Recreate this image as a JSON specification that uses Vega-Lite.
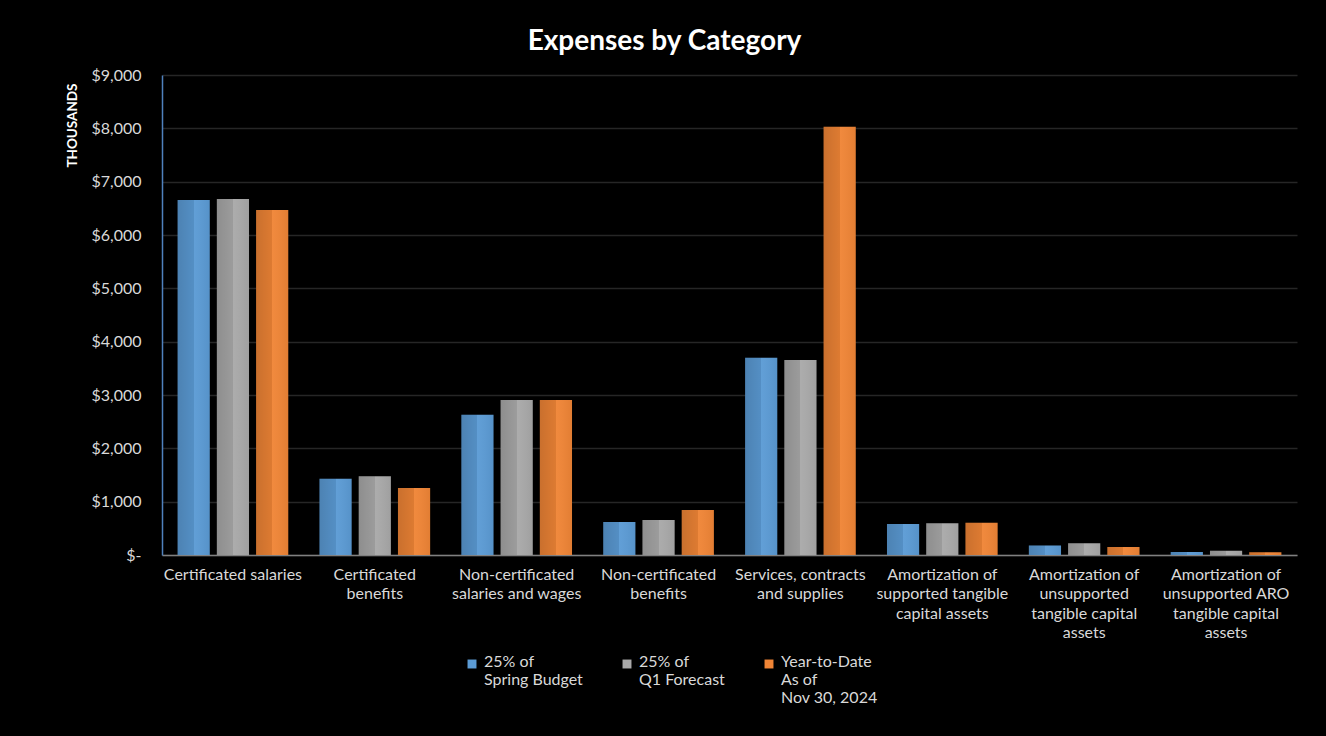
{
  "$schema": "https://vega.github.io/schema/vega-lite/v6.json",
  "width": 1135,
  "height": 480,
  "autosize": {"type": "none"},
  "padding": {"left": 162, "top": 75, "right": 29, "bottom": 181},
  "background": "#000000",
  "title": {
    "text": "Expenses by Category",
    "color": "#ffffff",
    "font": "Lato",
    "fontSize": 28,
    "fontWeight": "bold",
    "anchor": "middle",
    "dx": -65,
    "offset": 11
  },
  "data": {
    "values": [
      {"category": "Certificated salaries", "series": "25% of Spring Budget", "value": 6656},
      {"category": "Certificated salaries", "series": "25% of Q1 Forecast", "value": 6675},
      {"category": "Certificated salaries", "series": "Year-to-Date As of Nov 30, 2024", "value": 6469},
      {"category": "Certificated benefits", "series": "25% of Spring Budget", "value": 1430},
      {"category": "Certificated benefits", "series": "25% of Q1 Forecast", "value": 1475},
      {"category": "Certificated benefits", "series": "Year-to-Date As of Nov 30, 2024", "value": 1256},
      {"category": "Non-certificated salaries and wages", "series": "25% of Spring Budget", "value": 2631},
      {"category": "Non-certificated salaries and wages", "series": "25% of Q1 Forecast", "value": 2906},
      {"category": "Non-certificated salaries and wages", "series": "Year-to-Date As of Nov 30, 2024", "value": 2906},
      {"category": "Non-certificated benefits", "series": "25% of Spring Budget", "value": 619},
      {"category": "Non-certificated benefits", "series": "25% of Q1 Forecast", "value": 656},
      {"category": "Non-certificated benefits", "series": "Year-to-Date As of Nov 30, 2024", "value": 844},
      {"category": "Services, contracts and supplies", "series": "25% of Spring Budget", "value": 3700},
      {"category": "Services, contracts and supplies", "series": "25% of Q1 Forecast", "value": 3656},
      {"category": "Services, contracts and supplies", "series": "Year-to-Date As of Nov 30, 2024", "value": 8030},
      {"category": "Amortization of supported tangible capital assets", "series": "25% of Spring Budget", "value": 580},
      {"category": "Amortization of supported tangible capital assets", "series": "25% of Q1 Forecast", "value": 594},
      {"category": "Amortization of supported tangible capital assets", "series": "Year-to-Date As of Nov 30, 2024", "value": 607},
      {"category": "Amortization of unsupported tangible capital assets", "series": "25% of Spring Budget", "value": 176},
      {"category": "Amortization of unsupported tangible capital assets", "series": "25% of Q1 Forecast", "value": 219},
      {"category": "Amortization of unsupported tangible capital assets", "series": "Year-to-Date As of Nov 30, 2024", "value": 150},
      {"category": "Amortization of unsupported ARO tangible capital assets", "series": "25% of Spring Budget", "value": 56},
      {"category": "Amortization of unsupported ARO tangible capital assets", "series": "25% of Q1 Forecast", "value": 82},
      {"category": "Amortization of unsupported ARO tangible capital assets", "series": "Year-to-Date As of Nov 30, 2024", "value": 50}
    ]
  },
  "encoding": {
    "x": {
      "field": "category",
      "type": "nominal",
      "sort": null,
      "scale": {"paddingInner": 0.22, "paddingOuter": 0.11},
      "axis": {
        "title": null,
        "labelAngle": 0,
        "labelColor": "#d9d9d9",
        "labelFont": "Lato",
        "labelFontSize": 16,
        "labelLineHeight": 19.5,
        "labelPadding": 11,
        "labelLimit": 0,
        "ticks": false,
        "domainColor": "#808080",
        "domainWidth": 1.5,
        "labelExpr": "{'Certificated salaries':['Certificated salaries'],'Certificated benefits':['Certificated','benefits'],'Non-certificated salaries and wages':['Non-certificated','salaries and wages'],'Non-certificated benefits':['Non-certificated','benefits'],'Services, contracts and supplies':['Services, contracts','and supplies'],'Amortization of supported tangible capital assets':['Amortization of','supported tangible','capital assets'],'Amortization of unsupported tangible capital assets':['Amortization of','unsupported','tangible capital','assets'],'Amortization of unsupported ARO tangible capital assets':['Amortization of','unsupported ARO','tangible capital','assets']}[datum.label]"
      }
    },
    "xOffset": {
      "field": "series",
      "type": "nominal",
      "sort": null,
      "scale": {"paddingInner": 0.18, "paddingOuter": 0}
    },
    "y": {
      "field": "value",
      "type": "quantitative",
      "scale": {"domain": [0, 9000], "nice": false},
      "axis": {
        "title": "THOUSANDS",
        "titleColor": "#ffffff",
        "titleFont": "Lato",
        "titleFontSize": 13.5,
        "titleFontWeight": "bold",
        "titleAnchor": "end",
        "titleAngle": -90,
        "titleX": -90,
        "titleY": 8,
        "titleAlign": "right",
        "titleBaseline": "middle",
        "values": [0, 1000, 2000, 3000, 4000, 5000, 6000, 7000, 8000, 9000],
        "labelExpr": "datum.value == 0 ? '$-' : '$' + format(datum.value, ',')",
        "labelColor": "#d9d9d9",
        "labelFont": "Lato",
        "labelFontSize": 16,
        "labelPadding": 21,
        "ticks": false,
        "domainColor": "#4f81bd",
        "domainWidth": 1.5,
        "gridColor": "#262626",
        "gridWidth": 1.5
      }
    }
  },
  "layer": [
    {
      "mark": {"type": "bar"},
      "encoding": {
        "color": {
          "field": "series",
          "type": "nominal",
          "sort": null,
          "scale": {
            "domain": ["25% of Spring Budget", "25% of Q1 Forecast", "Year-to-Date As of Nov 30, 2024"],
            "range": ["#5b9bd5", "#a9a9a9", "#f08536"]
          },
          "legend": {
            "title": null,
            "orient": "none",
            "legendX": 302,
            "legendY": 581,
            "direction": "horizontal",
            "symbolType": "square",
            "symbolSize": 80,
            "symbolStrokeWidth": 0,
            "labelColor": "#d9d9d9",
            "labelFont": "Lato",
            "labelFontSize": 16,
            "labelLineHeight": 19.5,
            "labelBaseline": "top",
            "labelOffset": 4,
            "labelLimit": 0,
            "columnPadding": 36,
            "labelExpr": "{'25% of Spring Budget':['25% of','Spring Budget',' '],'25% of Q1 Forecast':['25% of','Q1 Forecast',' '],'Year-to-Date As of Nov 30, 2024':['Year-to-Date','\u00a0\u00a0As of','Nov 30, 2024']}[datum.label]",
            "encode": {"labels": {"update": {"dy": {"value": -10}}}}
          }
        }
      }
    },
    {
      "mark": {
        "type": "bar",
        "fill": {
          "gradient": "linear",
          "x1": 0, "y1": 0, "x2": 1, "y2": 0,
          "stops": [
            {"offset": 0, "color": "rgba(0,0,0,0.16)"},
            {"offset": 0.5, "color": "rgba(0,0,0,0.08)"},
            {"offset": 0.5, "color": "rgba(255,255,255,0.04)"},
            {"offset": 1, "color": "rgba(0,0,0,0.06)"}
          ]
        }
      },
      "encoding": {"detail": {"field": "series"}}
    }
  ],
  "config": {"view": {"stroke": null}}
}
